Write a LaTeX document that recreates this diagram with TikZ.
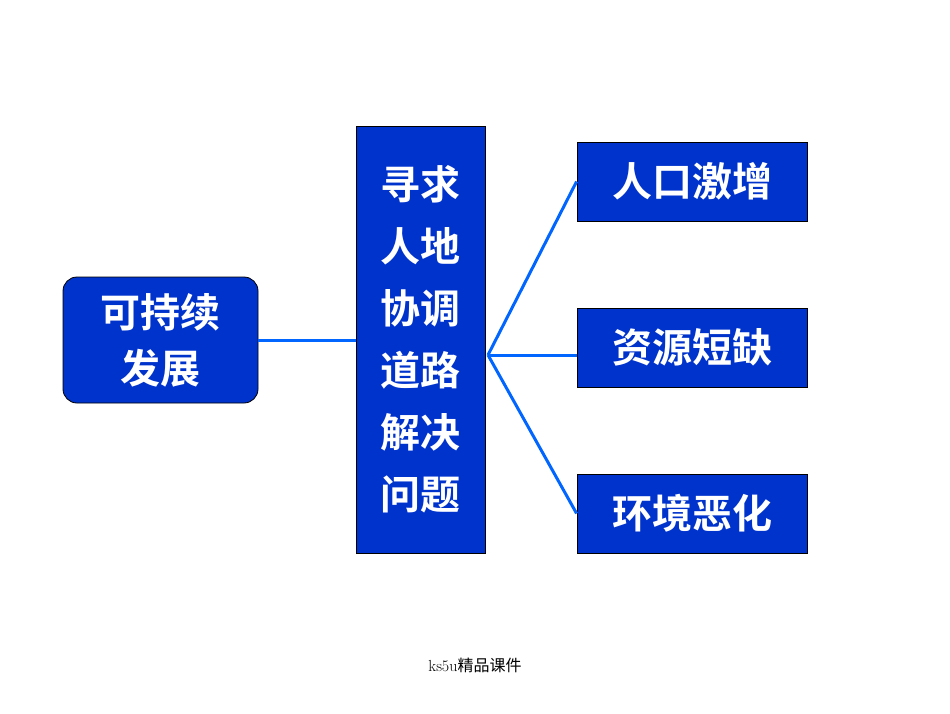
\documentclass[tikz,border=0pt]{standalone}
\usepackage{fontspec}
\newfontfamily\cjk{Noto Sans CJK SC}
\newfontfamily\cjkb{Noto Sans CJK SC Bold}
\newfontfamily\cjkserif{Noto Sans CJK SC}
\definecolor{boxblue}{RGB}{0,51,204}
\definecolor{lineblue}{RGB}{0,102,255}
\begin{document}
\begin{tikzpicture}[x=1pt,y=-1pt,
  bx/.style={draw=black,line width=0.8pt,fill=boxblue,text=white,font=\cjkb\fontsize{40}{48}\selectfont,inner sep=0pt},
  ln/.style={lineblue,line width=3pt}]
\useasboundingbox (0,0) rectangle (950,713);
\node[bx,rounded corners=14pt,minimum width=195pt,minimum height=126pt,align=center,font=\cjkb\fontsize{40}{56}\selectfont] (a) at (160.5,340) {可持续\\发展};
\node[bx,minimum width=129pt,minimum height=427pt,align=center,font=\cjkb\fontsize{40}{62}\selectfont] (b) at (420.5,339.5) {寻求\\人地\\协调\\道路\\解决\\问题};
\node[bx,minimum width=230pt,minimum height=79pt] (c1) at (692,181.5) {人口激增};
\node[bx,minimum width=230pt,minimum height=79pt] (c2) at (692,347.5) {资源短缺};
\node[bx,minimum width=230pt,minimum height=79pt] (c3) at (692,513.5) {环境恶化};
\coordinate (h) at (488,355);
\draw[ln] (a.east) -- (a.east -| b.west);
\draw[ln] (h) -- (c1.west);
\draw[ln] (h) -- (h -| c2.west);
\draw[ln] (h) -- (c3.west);
\node (f) at (475,665) {\fontsize{16}{18}\selectfont ks5u\cjk 精品课件};
\end{tikzpicture}
\end{document}
